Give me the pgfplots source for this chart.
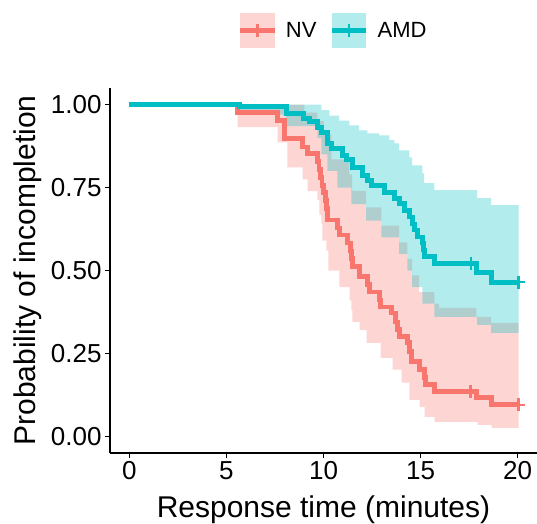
\documentclass[border=0pt]{standalone}
\usepackage{fontspec}
\setmainfont{Liberation Sans}
\usepackage{pgfplots}
\pgfplotsset{compat=1.18}
\usepgfplotslibrary{fillbetween}
\definecolor{nvcol}{HTML}{F8766D}
\definecolor{amdcol}{HTML}{00BFC4}

% Kaplan-Meier estimates (time in minutes, survival)
\pgfplotstableread{
x y
0 1
5.57 0.976
7.63 0.952
7.99 0.898
8.92 0.872
9.18 0.853
9.69 0.829
9.77 0.805
9.85 0.781
9.92 0.757
10.00 0.736
10.10 0.712
10.15 0.688
10.21 0.652
10.72 0.628
10.82 0.607
11.24 0.583
11.39 0.559
11.44 0.535
11.49 0.511
11.86 0.481
12.27 0.459
12.37 0.435
12.89 0.411
12.94 0.390
13.51 0.372
13.71 0.345
13.81 0.321
13.92 0.300
14.33 0.282
14.43 0.255
14.54 0.225
14.95 0.201
15.21 0.177
15.26 0.156
15.72 0.135
17.89 0.117
18.66 0.095
20.05 0.095
}\nvcurve
\pgfplotstableread{
x y
0 1
9.01 0.976
9.68 0.950
10.00 0.910
10.40 0.835
11.33 0.790
11.48 0.740
12.20 0.690
12.98 0.635
13.90 0.585
14.32 0.535
14.57 0.485
14.93 0.435
15.71 0.400
15.96 0.387
17.87 0.360
18.64 0.342
20.05 0.342
}\nvupper
\pgfplotstableread{
x y
0 1
5.57 0.932
7.63 0.886
8.14 0.811
8.92 0.775
9.18 0.739
9.69 0.712
9.79 0.667
9.89 0.640
9.94 0.590
10.15 0.560
10.25 0.500
10.82 0.450
11.34 0.410
11.44 0.380
11.49 0.345
11.86 0.320
12.22 0.282
12.94 0.237
13.56 0.201
14.02 0.162
14.43 0.110
14.95 0.089
15.21 0.059
15.72 0.044
17.94 0.035
18.66 0.026
20.05 0.026
}\nvlower
\pgfplotstableread{
x y
0 1
5.66 0.994
8.08 0.974
8.96 0.959
9.27 0.950
9.68 0.932
9.89 0.915
10.20 0.883
10.40 0.868
10.97 0.847
11.17 0.835
11.48 0.811
12.00 0.787
12.26 0.772
12.46 0.757
13.13 0.736
13.65 0.718
13.90 0.703
14.16 0.682
14.42 0.661
14.57 0.640
14.68 0.622
14.83 0.601
15.09 0.583
15.14 0.562
15.19 0.543
15.71 0.522
17.87 0.495
18.64 0.465
20.05 0.465
}\amdcurve
\pgfplotstableread{
x y
0 1
9.89 0.983
10.30 0.967
10.81 0.952
11.33 0.937
11.84 0.922
12.26 0.913
12.87 0.907
13.39 0.893
13.65 0.883
13.90 0.862
14.42 0.841
14.57 0.817
15.09 0.793
15.19 0.763
15.71 0.742
17.92 0.718
18.64 0.697
20.05 0.697
}\amdupper
\pgfplotstableread{
x y
0 1
5.66 0.970
8.08 0.935
9.68 0.900
9.89 0.850
10.20 0.800
10.71 0.750
11.43 0.700
12.20 0.650
12.98 0.600
13.90 0.550
14.32 0.500
14.57 0.450
15.09 0.400
15.71 0.360
17.92 0.336
18.64 0.312
20.05 0.312
}\amdlower

\begin{document}
\begin{tikzpicture}
\begin{axis}[
    at={(110pt,70pt)}, anchor=south west,
    scale only axis, width=427pt, height=365pt,
    xmin=-1, xmax=21, ymin=-0.05, ymax=1.05,
    axis x line*=bottom, axis y line*=left,
    axis line style={line width=1.8pt, -},
    xtick={0,5,10,15,20}, ytick={0,0.25,0.5,0.75,1},
    tick align=outside, major tick length=5pt,
    tick style={line width=1.8pt, black},
    /pgf/number format/assume math mode=true,
    yticklabel style={/pgf/number format/fixed, /pgf/number format/fixed zerofill, /pgf/number format/precision=2},
    ticklabel style={font=\fontsize{26}{30}\selectfont},
    xlabel={Response time (minutes)},
    ylabel={Probability of incompletion},
    label style={font=\fontsize{30}{36}\selectfont},
    xlabel style={at={(axis description cs:0.5,-0.117)}, anchor=north, inner sep=0pt},
    ylabel style={at={(axis description cs:-0.227,0.5)}, anchor=north, inner sep=0pt},
    legend columns=2,
    legend style={at={(axis description cs:0.299,1.157)}, anchor=west, draw=none, fill=none,
        inner sep=0pt, font=\fontsize{22}{26}\selectfont, nodes={inner sep=0pt},
        /tikz/every odd column/.append style={column sep=9pt},
        /tikz/every even column/.append style={column sep=13pt}},
]
% confidence bands
\addplot[name path=nvU, draw=none, const plot, forget plot] table {\nvupper};
\addplot[name path=nvL, draw=none, const plot, forget plot] table {\nvlower};
\addplot[nvcol, fill opacity=0.3, draw=none, forget plot] fill between[of=nvU and nvL];
\addplot[name path=amdU, draw=none, const plot, forget plot] table {\amdupper};
\addplot[name path=amdL, draw=none, const plot, forget plot] table {\amdlower};
\addplot[amdcol, fill opacity=0.3, draw=none, forget plot] fill between[of=amdU and amdL];

% survival curves
\addplot[nvcol, line width=4.8pt, const plot, line join=miter,
    legend image code/.code={
        \path[fill=nvcol, fill opacity=0.3, draw=none] (0pt,-17.2pt) rectangle (34.6pt,17.2pt);
        \draw[nvcol, line width=4.5pt] (0pt,0pt) -- (34.6pt,0pt);
        \draw[nvcol, line width=2.5pt] (17.3pt,-6.5pt) -- (17.3pt,6.5pt);
    }] table {\nvcurve};
\addlegendentry{NV}
\addplot[amdcol, line width=4.8pt, const plot, line join=miter,
    legend image code/.code={
        \path[fill=amdcol, fill opacity=0.3, draw=none] (0pt,-17.2pt) rectangle (34.6pt,17.2pt);
        \draw[amdcol, line width=4.5pt] (0pt,0pt) -- (34.6pt,0pt);
        \draw[amdcol, line width=2.5pt] (17.3pt,-6.5pt) -- (17.3pt,6.5pt);
    }] table {\amdcurve};
\addlegendentry{AMD}

% censoring marks
\addplot[nvcol, only marks, mark=+, mark size=6.5pt, mark options={line width=2.5pt}, forget plot]
    coordinates {(17.58,0.135) (20.05,0.095)};
\addplot[amdcol, only marks, mark=+, mark size=6.5pt, mark options={line width=2.5pt}, forget plot]
    coordinates {(17.60,0.522) (20.05,0.465)};
\end{axis}
\pgfresetboundingbox
\useasboundingbox (0,0) rectangle (537pt,523pt);
\end{tikzpicture}
\end{document}
